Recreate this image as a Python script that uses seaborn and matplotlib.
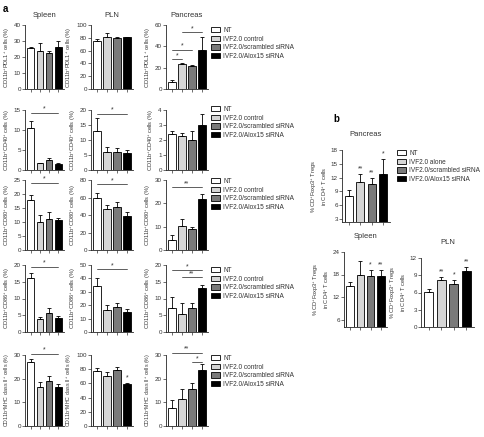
import matplotlib
matplotlib.use("Agg")
import numpy as np
import pandas as pd
import matplotlib.pyplot as plt
import seaborn as sns
from matplotlib.patches import Patch

# ---- data -----------------------------------------------------------------
groups_a = ["NT", "IVF2.0 control", "IVF2.0/scrambled siRNA", "IVF2.0/Alox15 siRNA"]
groups_b = ["NT", "IVF2.0 alone", "IVF2.0/scrambled siRNA", "IVF2.0/Alox15 siRNA"]
bar_colors = ["white", "#d6d6d6", "#7a7a7a", "black"]

tissues = ["Spleen", "PLN", "Pancreas"]
markers = ["PDL1", "CD40", "CD80", "CD86", "MHC class II"]

# mean values, one list per tissue (Spleen, PLN, Pancreas)
pdl1_mean = [[25.5, 23.5, 22.5, 26.5], [75, 81, 79, 81], [7, 23, 21.5, 37]]
pdl1_err = [[1.0, 5.5, 1.5, 3.2], [3, 7, 3, 1], [1.5, 1.5, 1.0, 12]]
cd40_mean = [[10.5, 1.7, 2.4, 1.6], [13, 6.1, 6.0, 5.6], [2.4, 2.25, 2.0, 3.0]]
cd40_err = [[1.7, 0.1, 0.5, 0.1], [4.5, 1.6, 1.2, 1.2], [0.2, 0.25, 0.6, 0.75]]
cd80_mean = [[18, 10.1, 11.2, 10.6], [60, 47, 49.5, 39], [4.5, 10.2, 9.0, 22]]
cd80_err = [[1.8, 2.4, 2.5, 1.0], [5, 4.5, 5.5, 4], [2.0, 3.2, 1.0, 2.0]]
cd86_mean = [[16, 3.8, 5.6, 4.2], [34, 16.5, 18.5, 15], [7.3, 5.5, 7.2, 13]]
cd86_err = [[1.5, 0.7, 1.5, 0.5], [6.5, 3.5, 3.5, 1.8], [3.0, 3.2, 1.5, 1.0]]
mhc_mean = [[27, 16.3, 19.2, 16.3], [78, 70.5, 79.5, 59.5], [7.5, 11.5, 15.5, 23.5]]
mhc_err = [[1.5, 2.3, 2.0, 1.5], [3.5, 6, 3, 1.5], [3.5, 4.0, 2.7, 2.5]]

means_a = [pdl1_mean, cd40_mean, cd80_mean, cd86_mean, mhc_mean]
errs_a = [pdl1_err, cd40_err, cd80_err, cd86_err, mhc_err]

ymax_a = [[40, 100, 60], [15, 20, 4], [25, 80, 30], [20, 50, 20], [30, 100, 30]]
ystep_a = [[10, 20, 20], [5, 5, 1], [5, 20, 10], [5, 10, 5], [10, 20, 10]]

# significance brackets: (row, col) -> [(from bar, to bar, height, label)]
sig_a = {
    (0, 2): [(0, 1, 28, "*"), (0, 2, 37, "*"), (1, 3, 53, "*")],
    (1, 0): [(0, 3, 14.3, "*")],
    (1, 1): [(0, 3, 18.8, "*")],
    (2, 0): [(0, 3, 24, "*")],
    (2, 1): [(0, 3, 75, "*")],
    (2, 2): [(0, 3, 27, "**")],
    (3, 0): [(0, 3, 19.5, "*")],
    (3, 1): [(0, 3, 47, "*")],
    (3, 2): [(0, 3, 18.5, "*"), (1, 3, 16.3, "**")],
    (4, 0): [(0, 3, 30.5, "*")],
    (4, 2): [(0, 3, 31, "**"), (2, 3, 27, "*")],
}
star_a = {(4, 1): ["", "", "", "*"]}

# panel b: Tregs
b_tissues = ["Pancreas", "Spleen", "PLN"]
treg_mean = [[8.0, 11.0, 10.6, 12.7], [15.0, 18.0, 17.5, 17.6], [6.1, 8.2, 7.5, 9.8]]
treg_err = [[1.3, 1.8, 1.3, 3.3], [1.0, 3.5, 1.8, 1.5], [0.5, 0.5, 0.7, 0.7]]
treg_stars = [["", "**", "**", "*"], ["", "", "*", "**"], ["", "**", "*", "**"]]
ylim_b = [(2.3, 18), (4, 24), (0, 12)]
yticks_b = [[3, 6, 9, 12, 15, 18], [6, 12, 18, 24], [0, 3, 6, 9, 12]]

# ---- style ----------------------------------------------------------------
sns.set_style("ticks")
plt.rcParams['font.family'] = ['Liberation Sans', 'DejaVu Sans']
plt.rcParams['font.size'] = 5
plt.rcParams['text.color'] = '#333333'
plt.rcParams['axes.labelcolor'] = '#333333'
plt.rcParams['xtick.color'] = '#333333'
plt.rcParams['ytick.color'] = '#333333'
plt.rcParams['axes.linewidth'] = 0.6
plt.rcParams['mathtext.default'] = 'regular'

W, H = 485, 437
fig = plt.figure(figsize=(W / 100, H / 100), dpi=100)


def px_axes(left, top, right, bottom):
    return fig.add_axes([left / W, 1 - bottom / H, (right - left) / W, (bottom - top) / H])


def draw_bars(ax, names, means, errs, ylim, yticks, ylabel, label_size=4.1):
    df = pd.DataFrame({"group": names, "value": means})
    sns.barplot(data=df, x="group", y="value", hue="group", palette=bar_colors,
                edgecolor="black", linewidth=0.6, width=0.72, legend=False, ax=ax)
    ax.errorbar(np.arange(len(means)), means, yerr=[np.zeros(len(errs)), errs],
                fmt="none", ecolor="black", elinewidth=0.6, capsize=1.6, capthick=0.6)
    ax.set_ylim(*ylim)
    ax.set_yticks(yticks)
    ax.set_xlim(-0.6, 3.6)
    ax.set_xticks(range(4))
    ax.set_xticklabels([])
    ax.set_xlabel("")
    ax.set_ylabel(ylabel, fontsize=label_size, labelpad=1.5)
    ax.tick_params(length=2, width=0.5, pad=1, labelsize=4.5)
    sns.despine(ax=ax)


def bracket(ax, i, j, y, label):
    ax.plot([i, j], [y, y], color="#444444", lw=0.6, clip_on=False)
    ax.text((i + j) / 2, y, label, ha="center", va="bottom", fontsize=5)


def legend(ax, names, x, y):
    handles = [Patch(facecolor=c, edgecolor="black", lw=0.6) for c in bar_colors]
    ax.legend(handles, names, loc="upper left", frameon=False, fontsize=4.7,
              bbox_to_anchor=(x / W, 1 - y / H), bbox_transform=fig.transFigure,
              handlelength=1.4, handleheight=0.9, handletextpad=0.5,
              labelspacing=0.25, borderpad=0, borderaxespad=0)


# ---- panel a ----------------------------------------------------------------
col_x = [(25, 64), (91, 133), (166, 208)]
row_y = [(25, 89), (110, 170), (180, 250), (265, 332), (355, 426)]
legend_y = [27, 106, 178, 267, 355]

for r, marker in enumerate(markers):
    ylabel = f"CD11b$^{{+}}${marker}$^{{+}}$ cells (%)"
    for c, tissue in enumerate(tissues):
        ax = px_axes(col_x[c][0], row_y[r][0], col_x[c][1], row_y[r][1])
        top = ymax_a[r][c]
        draw_bars(ax, groups_a, means_a[r][c], errs_a[r][c], (0, top),
                  np.arange(0, top + 0.01, ystep_a[r][c]), ylabel,
                  label_size=3.8 if r == 4 else 4.1)
        for i, j, y, lab in sig_a.get((r, c), []):
            bracket(ax, i, j, y, lab)
        for k, lab in enumerate(star_a.get((r, c), [])):
            if lab:
                ax.text(k, means_a[r][c][k] + errs_a[r][c][k] + top * 0.02, lab,
                        ha="center", va="bottom", fontsize=5)
        if r == 0:
            ax.set_title(tissue, fontsize=5.5, pad=6)
        if c == 2:
            legend(ax, groups_a, 211, legend_y[r])

fig.text(3 / W, 1 - 9 / H, "a", fontsize=7, fontweight="bold", color="black", va="center")
fig.text(333 / W, 1 - 119 / H, "b", fontsize=7, fontweight="bold", color="black", va="center")

# ---- panel b ----------------------------------------------------------------
b_boxes = [(342, 150, 390, 222), (344, 252, 387, 327), (421, 258, 474, 327)]
b_ylabel = "% CD$^{+}$Foxp3$^{+}$ Tregs\nin CD4$^{+}$ T cells"
for k, tissue in enumerate(b_tissues):
    ax = px_axes(*b_boxes[k])
    draw_bars(ax, groups_b, treg_mean[k], treg_err[k], ylim_b[k], yticks_b[k], b_ylabel,
              label_size=4.1)
    span = ylim_b[k][1] - ylim_b[k][0]
    for i, lab in enumerate(treg_stars[k]):
        if lab:
            ax.text(i, treg_mean[k][i] + treg_err[k][i] + span * 0.02, lab,
                    ha="center", va="bottom", fontsize=5)
    ax.set_title(tissue, fontsize=5.5, pad=10)
    if k == 0:
        legend(ax, groups_b, 397, 150)

fig.savefig("out.png", dpi=100)
